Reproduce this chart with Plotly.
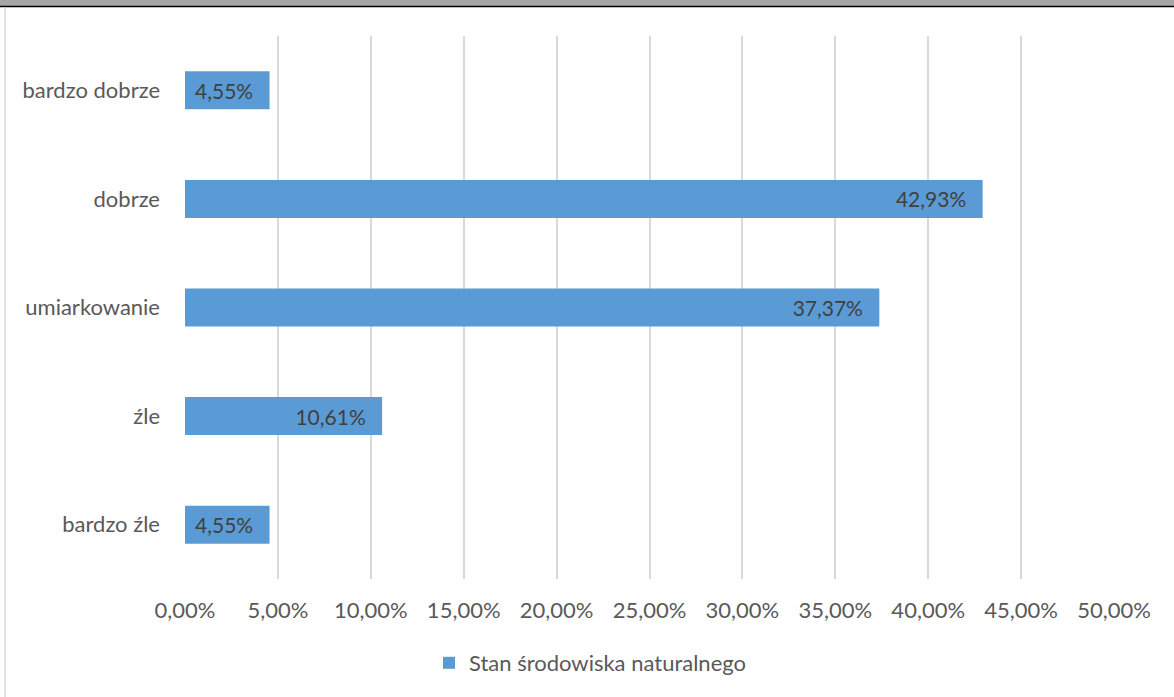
import plotly.graph_objects as go

categories = ["bardzo dobrze", "dobrze", "umiarkowanie", "źle", "bardzo źle"]
values = [0.0455, 0.4293, 0.3737, 0.1061, 0.0455]
value_labels = ["4,55%", "42,93%", "37,37%", "10,61%", "4,55%"]
tick_vals = [0, 0.05, 0.10, 0.15, 0.20, 0.25, 0.30, 0.35, 0.40, 0.45, 0.50]
tick_text = ["0,00%", "5,00%", "10,00%", "15,00%", "20,00%", "25,00%",
             "30,00%", "35,00%", "40,00%", "45,00%", "50,00%"]
series_name = "Stan środowiska naturalnego"

W, H = 1174, 697
L, R, T, B = 185, 60, 36, 118
pw, ph = W - L - R, H - T - B

def px(x):
    return (x - L) / pw

def py(y):
    return (H - B - y) / ph

FONT = "Lato, 'Open Sans', sans-serif"
FS = 22

fig = go.Figure()
fig.add_trace(go.Bar(
    y=categories, x=values, orientation="h",
    name=series_name,
    marker=dict(color="#5b9bd5", line=dict(width=0)),
    text=value_labels, texttemplate="%{text}\u00a0\u00a0\u2009",
    textposition="inside", insidetextanchor="end",
    textfont=dict(color="#404040", size=21, family=FONT),
    cliponaxis=False,
    showlegend=True,
    hoverinfo="skip",
))

fig.update_layout(
    width=W, height=H,
    margin=dict(l=L, r=R, t=T, b=B),
    paper_bgcolor="white", plot_bgcolor="white",
    bargap=0.65,
    font=dict(family=FONT, size=FS, color="#595959"),
    xaxis=dict(range=[0, 0.5], tickvals=tick_vals, ticktext=tick_text,
               showgrid=True, gridcolor="#d9d9d9", gridwidth=1.5,
               zeroline=False, showline=False, ticks="",
               ticklabelstandoff=16,
               tickfont=dict(size=FS, color="#595959")),
    yaxis=dict(categoryorder="array", categoryarray=categories[::-1],
               showgrid=False, zeroline=False, showline=False, ticks="",
               ticklabelstandoff=24,
               tickfont=dict(size=FS, color="#595959")),
    legend=dict(orientation="h", x=px(590), xanchor="center",
                y=py(663), yanchor="middle",
                font=dict(size=FS, color="#595959"),
                itemwidth=30, bgcolor="rgba(0,0,0,0)"),
    shapes=[
        dict(type="rect", xref="paper", yref="paper",
             x0=px(0), x1=px(W), y0=py(6), y1=py(0),
             fillcolor="#a6a6a6", line=dict(width=0), layer="above"),
        dict(type="line", xref="paper", yref="paper",
             x0=px(0), x1=px(W), y0=py(6.5), y1=py(6.5),
             line=dict(color="#000000", width=1.5)),
        dict(type="line", xref="paper", yref="paper",
             x0=px(5), x1=px(5), y0=py(H), y1=py(7),
             line=dict(color="#d9d9d9", width=1.5)),
    ],
)

fig.write_html("out.html",
               config={"displayModeBar": False},
               post_script="document.body.style.margin='0';document.body.style.padding='0';")
